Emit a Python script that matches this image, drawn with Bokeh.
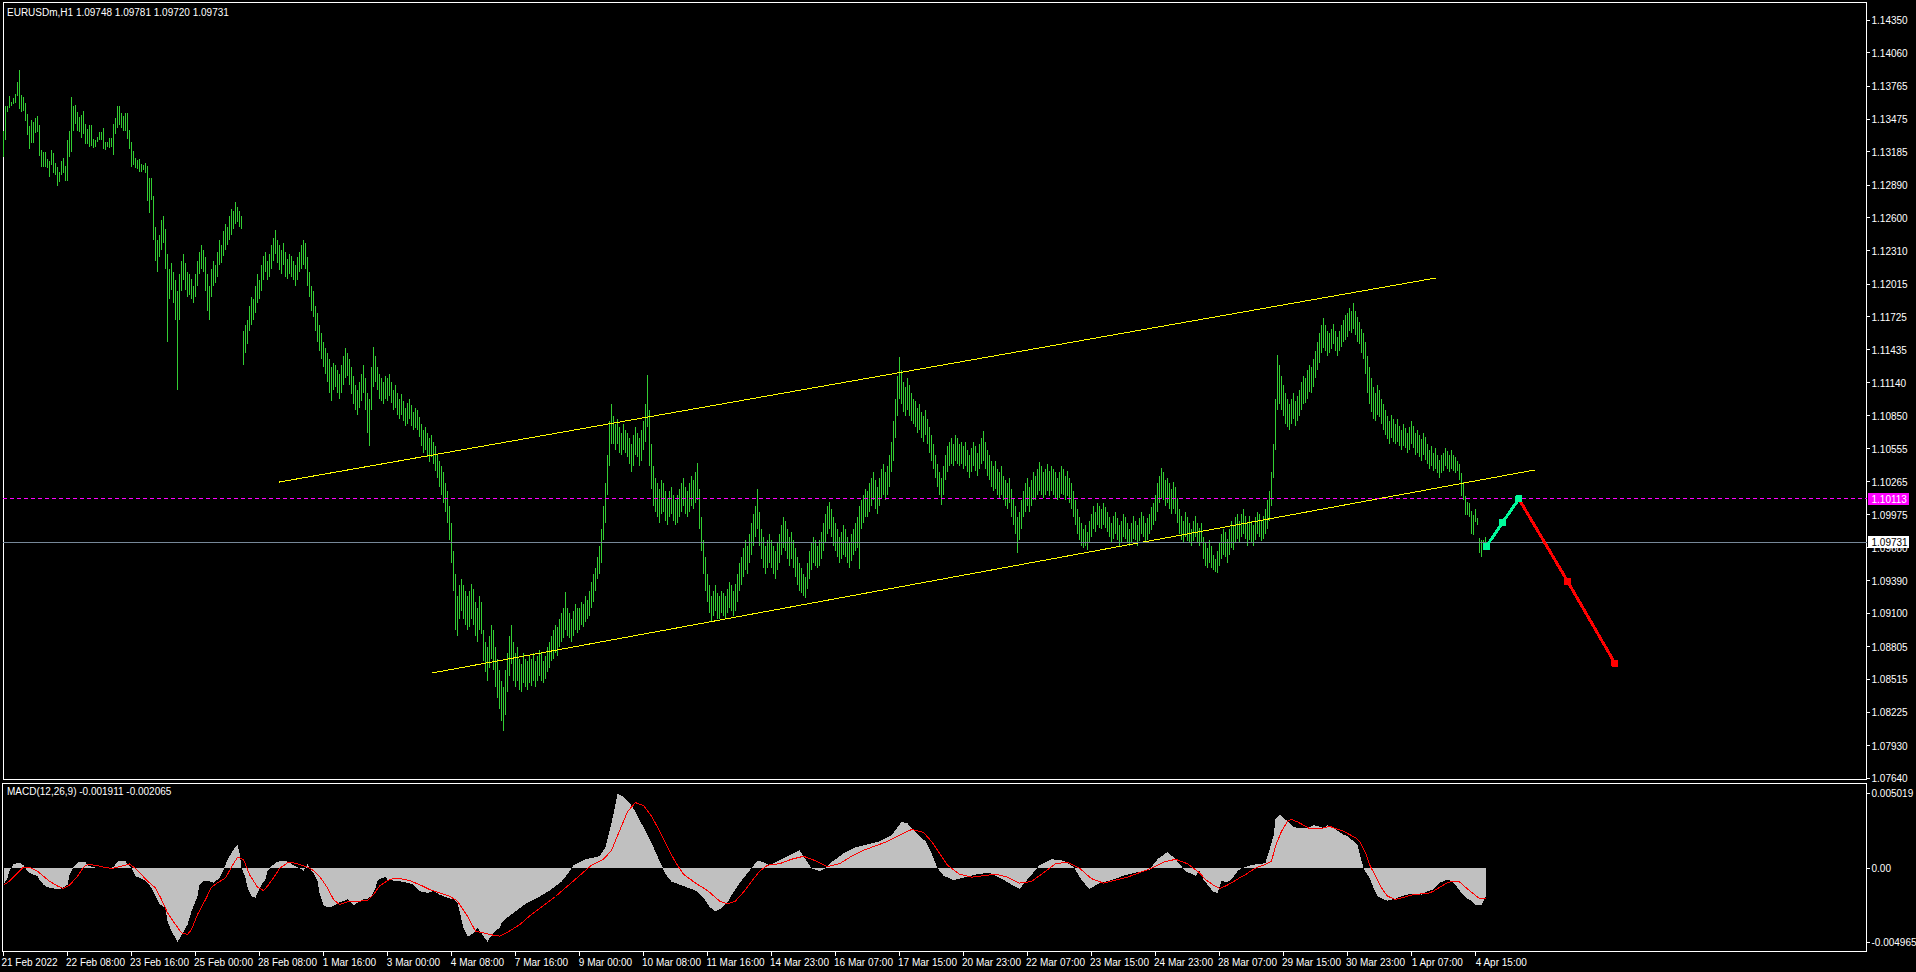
from bokeh.plotting import figure
from bokeh.layouts import column
from bokeh.models import (FixedTicker, Label, LinearAxis, Range1d, ColumnDataSource)
from bokeh.core.properties import value
from bokeh.embed import file_html
from bokeh.resources import INLINE
try:
    from bokeh.models import GlobalInlineStyleSheet
except Exception:
    GlobalInlineStyleSheet = None

FONT = "Liberation Sans"

# ---------------- DATA ----------------
symbol_title = "EURUSDm,H1  1.09748 1.09781 1.09720 1.09731"
macd_title = "MACD(12,26,9) -0.001911 -0.002065"

# H1 bar highs / lows in pips above 1.0000 (1337 -> 1.1337), one value per bar
bar_high = [
    1337,1359,1359,1368,1363,1366,1370,1380,1391,1369,1367,1362,1352,1341,1347,1345,1348,1350,1342,1320,1318,1318,1312,1310,
    1320,1317,1309,1305,1301,1310,1313,1306,1329,1337,1367,1359,1360,1354,1349,1351,1355,1343,1339,1342,1342,1330,1329,1332,
    1336,1336,1340,1327,1327,1331,1331,1343,1348,1359,1359,1353,1350,1353,1353,1338,1327,1319,1313,1311,1312,1308,1307,1309,
    1306,1295,1295,1279,1252,1240,1245,1258,1262,1250,1228,1215,1220,1212,1205,1195,1210,1222,1228,1220,1212,1210,1206,1200,
    1210,1222,1230,1236,1232,1225,1210,1200,1215,1222,1218,1230,1240,1236,1248,1255,1252,1262,1268,1266,1274,1270,1266,1262,
    1160,1165,1170,1182,1190,1188,1200,1210,1205,1218,1226,1230,1222,1228,1236,1242,1249,1240,1236,1232,1238,1230,1224,1228,
    1226,1222,1218,1225,1230,1236,1240,1238,1225,1212,1200,1195,1182,1176,1165,1158,1150,1145,1140,1135,1128,1132,1130,1125,
    1122,1130,1138,1145,1140,1135,1128,1120,1112,1108,1115,1122,1130,1118,1105,1100,1128,1146,1138,1128,1122,1118,1115,1120,
    1118,1122,1115,1108,1112,1105,1100,1104,1098,1092,1096,1100,1094,1088,1092,1090,1084,1078,1072,1075,1070,1065,1068,1062,
    1058,1050,1045,1040,1035,1025,1018,1005,990,965,945,925,935,940,935,930,925,930,936,932,920,915,925,920,
    895,885,880,890,900,895,880,870,860,850,845,860,875,890,900,885,875,880,870,865,875,870,868,872,
    870,875,868,872,878,875,868,872,880,885,890,895,900,898,905,910,915,929,915,910,905,912,918,915,
    915,920,918,925,922,930,938,945,950,960,970,985,1005,1025,1050,1080,1095,1085,1078,1082,1075,1070,1078,1072,
    1070,1065,1060,1068,1075,1070,1065,1072,1080,1095,1121,1090,1060,1040,1030,1025,1020,1028,1025,1018,1012,1018,1022,1015,
    1010,1015,1020,1025,1030,1022,1018,1025,1032,1028,1035,1043,1020,995,975,960,945,935,925,930,935,928,925,930,
    928,925,932,938,935,930,936,945,955,960,968,975,970,980,990,998,1005,1020,1000,985,978,970,975,980,
    975,970,965,972,980,988,995,992,985,978,982,975,968,960,955,950,945,942,955,965,972,978,975,970,
    975,982,990,998,1005,1009,1002,995,990,985,978,982,988,985,978,972,980,985,990,995,1005,1010,1015,1020,
    1018,1025,1030,1035,1028,1022,1030,1038,1042,1035,1040,1050,1062,1080,1100,1120,1137,1125,1115,1110,1118,1112,1105,1100,
    1098,1092,1095,1088,1085,1090,1082,1075,1068,1060,1050,1042,1035,1030,1040,1050,1058,1062,1065,1060,1068,1065,1060,1062,
    1058,1062,1055,1050,1056,1062,1058,1052,1060,1065,1071,1062,1055,1050,1045,1040,1045,1038,1035,1040,1032,1028,1025,1030,
    1020,1012,1005,995,1000,1010,1018,1025,1030,1022,1028,1035,1032,1038,1044,1040,1035,1038,1042,1036,1040,1038,1035,1030,
    1035,1040,1038,1032,1036,1030,1025,1018,1010,1002,995,990,985,988,982,992,998,1005,1000,1008,1005,1002,1008,1004,
    1000,995,990,996,1000,994,988,992,998,995,990,985,990,996,992,988,994,1000,996,990,994,998,1004,1008,
    1015,1025,1032,1039,1035,1028,1030,1025,1020,1026,1022,1012,1002,996,992,1000,995,990,985,992,996,990,986,990,
    978,972,968,975,970,962,958,965,972,980,985,982,976,985,992,988,995,998,992,998,1002,996,990,996,
    992,988,995,1000,998,992,996,1002,1010,1018,1035,1060,1100,1139,1130,1120,1112,1105,1100,1095,1100,1105,1098,1102,
    1108,1115,1120,1118,1125,1130,1128,1135,1142,1150,1158,1165,1171,1165,1160,1158,1162,1166,1160,1155,1160,1165,1170,1174,
    1176,1180,1178,1185,1178,1172,1168,1162,1158,1150,1138,1128,1118,1110,1105,1112,1108,1100,1095,1090,1085,1080,1086,1082,
    1078,1082,1076,1072,1078,1074,1070,1075,1080,1076,1070,1072,1068,1064,1070,1066,1060,1055,1058,1052,1056,1050,1046,1050,
    1052,1056,1054,1050,1055,1050,1048,1045,1042,1034,1026,1014,1009,1008,1001,997,1002,994,977,975,975,978,
]
bar_low = [
    1314,1329,1354,1357,1359,1361,1362,1368,1356,1354,1355,1346,1333,1321,1326,1326,1335,1336,1315,1305,1305,1305,1304,1296,
    1307,1300,1298,1288,1292,1298,1300,1293,1293,1314,1318,1337,1343,1337,1336,1331,1334,1325,1325,1323,1324,1322,1323,1327,
    1329,1329,1321,1320,1323,1322,1323,1316,1334,1340,1342,1340,1337,1337,1330,1321,1305,1307,1304,1303,1301,1301,1302,1300,
    1275,1264,1276,1240,1222,1212,1225,1232,1238,1215,1150,1188,1196,1185,1170,1108,1170,1195,1205,1196,1190,1192,1188,1185,
    1190,1200,1210,1215,1212,1195,1178,1170,1190,1200,1202,1208,1218,1220,1226,1232,1236,1240,1245,1250,1255,1256,1252,1250,
    1130,1140,1148,1160,1165,1170,1176,1185,1188,1195,1205,1212,1205,1208,1215,1222,1228,1220,1214,1210,1218,1208,1206,1210,
    1208,1205,1200,1205,1212,1215,1218,1215,1200,1190,1178,1172,1160,1150,1142,1135,1128,1122,1115,1105,1098,1108,1110,1105,
    1100,1105,1112,1118,1120,1112,1104,1095,1090,1086,1092,1098,1105,1090,1070,1058,1090,1110,1115,1108,1100,1098,1095,1100,
    1098,1102,1096,1090,1092,1086,1082,1086,1080,1076,1078,1082,1076,1072,1074,1072,1066,1058,1052,1055,1048,1044,1048,1042,
    1036,1030,1022,1015,1008,1000,990,975,955,930,895,890,905,912,905,900,895,898,905,900,890,885,895,892,
    868,858,850,862,870,860,845,835,825,815,806,820,840,855,865,850,845,850,842,840,848,845,842,848,
    846,850,845,850,855,850,848,852,858,862,868,870,875,872,880,885,888,895,890,888,885,890,895,893,
    895,900,898,902,905,908,915,920,930,940,945,955,975,990,1015,1040,1060,1060,1055,1060,1052,1050,1055,1052,
    1048,1042,1035,1040,1050,1048,1040,1045,1055,1062,1075,1040,1020,1005,1000,995,990,998,1000,992,988,995,998,992,
    988,990,995,1000,1005,998,995,1000,1005,1002,1008,1010,985,965,945,930,920,910,903,908,912,905,905,910,
    908,905,910,915,912,908,912,920,930,935,942,948,945,955,962,970,978,985,970,958,950,945,950,955,
    950,945,940,948,955,962,968,965,958,952,958,950,942,935,930,928,925,924,932,940,948,955,952,950,
    952,958,965,972,980,985,978,970,965,960,955,958,962,960,955,950,956,962,965,968,949,985,990,995,
    995,1000,1005,1010,1002,998,1005,1012,1015,1010,1015,1022,1035,1045,1065,1085,1100,1095,1088,1085,1090,1085,1080,1078,
    1075,1070,1072,1065,1062,1068,1060,1052,1045,1038,1030,1022,1015,1006,1015,1028,1035,1040,1042,1040,1045,1042,1040,1042,
    1038,1040,1035,1030,1035,1040,1036,1032,1038,1042,1045,1038,1032,1028,1022,1018,1020,1015,1012,1015,1010,1005,1002,1008,
    995,988,980,963,975,985,995,1000,1005,1000,1005,1010,1010,1015,1018,1015,1012,1015,1018,1014,1018,1015,1012,1010,
    1012,1016,1015,1010,1014,1008,1002,995,988,980,975,970,968,970,966,972,978,985,982,988,986,985,988,986,
    982,978,972,976,980,975,970,972,978,976,972,970,972,976,975,970,974,980,978,973,975,980,984,988,
    992,1000,1008,1012,1010,1005,1008,1002,998,1002,998,990,980,975,972,978,974,972,970,974,978,972,970,972,
    958,952,950,955,950,948,947,946,952,958,962,960,955,962,968,966,972,976,972,978,980,976,970,975,
    972,970,975,980,978,974,976,980,985,992,1005,1030,1055,1090,1095,1090,1085,1078,1075,1072,1078,1082,1076,1080,
    1085,1090,1095,1096,1100,1106,1105,1110,1118,1125,1132,1140,1145,1142,1138,1140,1144,1148,1142,1138,1142,1146,1150,1152,
    1155,1160,1158,1162,1156,1150,1148,1140,1135,1122,1105,1095,1088,1082,1080,1086,1084,1078,1072,1068,1064,1060,1065,1062,
    1060,1062,1058,1055,1058,1056,1052,1055,1060,1056,1050,1052,1048,1045,1050,1046,1042,1038,1040,1036,1038,1034,1030,1034,
    1036,1040,1038,1035,1038,1036,1034,1036,1028,1014,1010,997,997,995,980,979,991,988,963,960,968,972,
]

# price axis ticks
price_ticks = [1.14350, 1.14060, 1.13765, 1.13475, 1.13185, 1.12890, 1.12600, 1.12310,
               1.12015, 1.11725, 1.11435, 1.11140, 1.10850, 1.10555, 1.10265, 1.09975,
               1.09680, 1.09390, 1.09100, 1.08805, 1.08515, 1.08225, 1.07930, 1.07640]
target_level = 1.10113
bid_level = 1.09731

# channel lines (bar index, price)
chan_x0 = [137.5, 214.5]
chan_y0 = [1.10261, 1.08573]
chan_x1 = [716.1, 765.6]
chan_y1 = [1.12068, 1.10369]

# projected path
proj_up_x = [741.5, 749.5, 757.7]
proj_up_y = [1.09694, 1.09904, 1.10113]
proj_dn_x = [757.7, 782.0, 805.7]
proj_dn_y = [1.10113, 1.09385, 1.08659]

# time axis (label every 32 bars)
time_labels = ["21 Feb 2022", "22 Feb 08:00", "23 Feb 16:00", "25 Feb 00:00", "28 Feb 08:00",
               "1 Mar 16:00", "3 Mar 00:00", "4 Mar 08:00", "7 Mar 16:00", "9 Mar 00:00",
               "10 Mar 08:00", "11 Mar 16:00", "14 Mar 23:00", "16 Mar 07:00", "17 Mar 15:00",
               "20 Mar 23:00", "22 Mar 07:00", "23 Mar 15:00", "24 Mar 23:00", "28 Mar 07:00",
               "29 Mar 15:00", "30 Mar 23:00", "1 Apr 07:00", "4 Apr 15:00"]

# MACD main (histogram) and signal, in units of 1e-4, at bar positions
macd_bar = [0,2,3,5,7,8,10,12,14,17,18,20,22,24,27,29,32,33,35,37,38,41,42,45,48,52,55,57,58,61,62,64,66,68,71,73,
            76,78,81,82,84,86,87,89,92,94,97,98,100,102,105,108,110,112,113,115,117,118,119,121,122,124,126,127,129,
            131,132,134,136,138,141,143,146,148,150,152,153,155,157,158,160,162,165,167,170,172,175,177,180,182,184,
            186,187,189,191,192,195,198,202,205,208,212,215,218,222,225,227,230,232,233,235,237,240,242,243,246,248,
            249,252,255,258,261,267,273,279,282,285,291,298,301,304,307,310,313,316,319,322,325,328,331,334,340,346,
            350,353,356,359,362,365,368,371,374,377,380,383,386,392,398,401,404,408,411,414,420,426,432,438,444,449,
            452,456,461,464,467,470,475,481,487,493,499,504,508,513,518,524,530,535,539,543,548,554,560,566,573,577,
            582,586,591,596,
            598,600,603,605,607,609,612,614,617,619,622,624,626,629,631,633,635,636,638,640,643,645,648,650,652,655,
            657,660,662,665,667,670,672,674,677,678,680,681,683,685,687,690,692,696,699,702,705,709,712,715,718,722,
            724,726,729,731,734,736,739,741]
macd_main = [-11,-6.5,-2,2.5,3.6,3.6,2,-2,-3.8,-5.4,-7.6,-11,-12.8,-13.2,-14.3,-13.6,-11,-4.3,0.7,3.6,4.3,4.3,2,0.7,
             -0.2,-0.2,0.7,4.3,4.7,4.7,2.9,0,-5.4,-6.5,-8.3,-11,
             -18.8,-24,-26.6,-35.6,-42.3,-46.8,-49.5,-45,-37.8,-28.9,-18.8,-11,-8.7,-8.3,-9.8,-6.5,-0.9,5.8,8,12.5,
             15.4,10.3,0.2,-6.5,-12.8,-18.8,-19.9,-16.6,-11,
             -7.6,-2,1.3,3.6,4.7,5.1,3.6,1.3,0,-1.6,2.5,0,-3.1,-8.7,-16.6,-24.8,-26.2,-25.5,-23.3,-22.1,-21,-24.8,
             -23.3,-21,-20.4,-18.8,
             -13.2,-8.3,-6.5,-6,-7.6,-8.3,-8.7,-9.8,-11,-15.4,-16.6,-15.4,-17.7,-19.9,-21,-23.3,-40,-45.6,-45.6,-43.4,
             -40,-45.6,-49.5,-46.8,-42.3,-40,
             -37,-33,-30,-27,-24,-20,-15,-9,-4,2,6,8,14,30,50,48,44,38,30,22,14,5,-4,-9,-12,-15,
             -20,-26,-29,-27,-23,-16,-10,-5,0,5,4,2,4,8,12,6,0,-2,0,4,10,14,16,18,22,31,
             30,24,18,10,0,-5,-8,-6,-4,-3,-7,-11,-14,-6,2,6,5,1,-8,-14,-10,-8,-5,-3,-1,6,
             11,6,-2,-5,
             -2,-7.6,-12.8,-15.9,-16.6,-8.7,-9.2,-7.6,-2,0,1.3,2,2.5,2.9,3.6,12.5,21.5,32.7,36,33.8,30.4,27.5,27,27,27,
             28.9,28.2,27,28.9,27,25.3,22.6,21.5,19.2,15.9,10.3,0,-2.5,-6.5,-13.2,-18.8,-21,-21.7,-20.4,-18.8,-17.7,
             -17.2,-17.7,-15.4,-14.3,-9.8,-7.6,-8.7,-11.4,-16.6,-19.5,-22.1,-24.8,-24.4,-19.1]
signal_bar = [0,3,7,10,13,17,20,23,27,30,33,37,40,42,46,50,54,57,61,63,66,69,72,76,79,82,86,89,92,94,97,101,104,107,
              111,114,117,120,123,127,130,132,135,138,142,145,148,152,155,158,162,165,168,172,175,178,182,185,188,192,
              195,198,203,208,213,218,223,227,232,236,240,245,248,
              252,258,264,270,276,282,288,294,300,304,308,312,316,320,324,328,332,336,340,346,352,358,362,366,370,374,
              378,382,388,394,400,406,412,418,424,430,436,442,448,454,460,464,468,472,478,484,490,496,502,508,514,520,
              526,532,538,544,550,556,562,568,574,580,586,592,596,
              598,601,605,608,611,614,618,621,624,627,631,634,636,639,642,644,647,650,653,657,660,663,666,670,673,676,
              678,681,683,686,689,692,696,699,702,705,709,712,715,718,722,725,728,731,735,738,741]
macd_signal = [-11.4,-8.7,-3.1,0.7,0.7,-2,-5.4,-8.7,-12,-13.6,-11.4,-5.4,0.7,2.5,2,0.7,-0.2,0.7,2,2.9,-0.2,-4.3,-8.7,
               -13.2,-21,-30,-37.8,-43.4,-44.5,-41.2,-31.1,-21,-12.8,-9.8,-6.5,0.7,7.4,5.8,-4.3,-12.8,-15,-12,-6.5,-0.2,
               3.6,3.6,2.5,0.7,-1.6,-5.4,-13.2,-21,-24.4,-22.6,-22.1,-22.1,-21.7,-17.7,-12,-8.3,-6.9,-6.9,-8.3,-11,-14.3,
               -16.6,-18.8,-22.1,-32.2,-42.3,-43.4,-45,-45.6,
               -43,-38,-31,-25,-19,-12,-5,2,6,12,25,38,44,42,35,25,14,4,-4,-10,-15,-22,-24,-22,-16,-9,
               -2,2,3,6,8,5,1,3,8,12,15,18,22,26,24,18,10,2,-4,-6,-5,-4,-6,-10,-9,-3,
               3,4,0,-7,-10,-8,-6,-3,0,4,6,3,-1,
               -3.1,-7.6,-11.4,-13.6,-12,-9.8,-6.5,-4.3,-1.6,0.7,2.5,4.7,14.8,24.8,31.5,32.7,31.1,28.9,26.6,26.6,27,28.2,
               26.6,24.8,22.6,20.4,18.1,10.3,2.5,-5.4,-13.2,-18.8,-21,-19.9,-18.8,-17.7,-17.2,-17.2,-15.4,-12.8,-9.8,
               -8.7,-9.2,-12.8,-17.2,-20.4,-20.65]
macd_ticks = [0.005019, 0.0, -0.004965]
macd_tick_labels = ["0.005019", "0.00", "-0.004965"]

# ---------------- LAYOUT / STYLE ----------------
BG = "black"
BAR_GREEN = "#32cd32"
PX_PER_BAR = 2.0
X0 = -0.5                      # bar coordinate at the left edge of the frames
MAIN_W = 1914                  # main frame spans the price-axis area too
MACD_W = 1864
AX = X0 + MACD_W / PX_PER_BAR  # bar coordinate of the price-axis line
TOP_B = 1.14506                # price at the top border line
BOT_B = 1.07630                # price at the bottom border line

n = min(len(bar_high), len(bar_low))
src = ColumnDataSource(dict(x=list(range(n)),
                            hi=[1 + v / 10000 for v in bar_high[:n]],
                            lo=[1 + v / 10000 for v in bar_low[:n]]))

p = figure(frame_width=MAIN_W, frame_height=783,
           x_range=Range1d(X0, X0 + MAIN_W / PX_PER_BAR),
           y_range=Range1d(1.075944, 1.14524),
           x_axis_location=None, y_axis_location=None,
           output_backend="svg", toolbar_location=None,
           background_fill_color=BG, border_fill_color=BG, outline_line_color=None,
           min_border_left=2, min_border_top=0, min_border_bottom=0, min_border_right=0)
p.grid.visible = False

# frame borders and price-axis line
p.segment(x0=[X0 + 0.25, X0 + 0.25, X0 + 0.25, AX],
          y0=[TOP_B, BOT_B, BOT_B, BOT_B],
          x1=[AX, AX, X0 + 0.25, AX],
          y1=[TOP_B, BOT_B, TOP_B, TOP_B], line_color="white", line_width=1)

# bars
p.segment(x0="x", y0="lo", x1="x", y1="hi", source=src, line_color=BAR_GREEN, line_width=1)
# channel
p.segment(x0=chan_x0, y0=chan_y0, x1=chan_x1, y1=chan_y1, line_color="#ffff00", line_width=1)
# level lines
p.segment(x0=[X0], y0=[target_level], x1=[AX], y1=[target_level], line_color="#ff00ff",
          line_dash="4 3", line_width=1)
p.segment(x0=[X0], y0=[bid_level], x1=[AX], y1=[bid_level], line_color="#778899", line_width=1)

# projection
p.line(proj_dn_x, proj_dn_y, line_color="#ff0000", line_width=3)
p.scatter(proj_dn_x[1:], proj_dn_y[1:], marker="square", size=6, fill_color="#ff0000", line_color="#ff0000")
p.line(proj_up_x, proj_up_y, line_color="#00fa9a", line_width=3)
p.scatter(proj_up_x, proj_up_y, marker="square", size=6, fill_color="#00fa9a", line_color="#00fa9a")

# price axis ticks + labels (drawn inside the wide frame)
nt = len(price_ticks)
p.segment(x0=[AX] * nt, y0=price_ticks, x1=[AX + 1.5] * nt, y1=price_ticks, line_color="white")
p.text(x=[AX + 2.5] * nt, y=price_ticks, text=[f"{t:.5f}" for t in price_ticks],
       text_color="white", text_font=value(FONT), text_font_size=value("10px"),
       text_baseline="middle", text_align="left")
# current-level boxes
half_h = 0.00053
p.quad(left=[AX + 0.5, AX + 0.5], right=[AX + 21, AX + 21],
       bottom=[target_level - half_h, bid_level - half_h],
       top=[target_level + half_h, bid_level + half_h],
       fill_color=["#ff00ff", "white"], line_color=None)
p.text(x=[AX + 2.5, AX + 2.5], y=[target_level, bid_level],
       text=[f"{target_level:.5f}", f"{bid_level:.5f}"], text_color=["white", "black"],
       text_font=value(FONT), text_font_size=value("10px"),
       text_baseline="middle", text_align="left")

p.add_layout(Label(x=X0 + 2.25, y=1.14418, text=symbol_title, text_color="white",
                   text_font=FONT, text_font_size="10px", text_baseline="middle"))

# ---------------- MACD panel ----------------
m = figure(frame_width=MACD_W, frame_height=168,
           x_range=Range1d(X0, X0 + MACD_W / PX_PER_BAR),
           y_range=Range1d(-0.005591, 0.005685), y_axis_location="right",
           x_axis_location=None, output_backend="svg", toolbar_location=None,
           background_fill_color=BG, border_fill_color=BG,
           outline_line_color="white", outline_line_width=1,
           min_border_left=2, min_border_top=0, min_border_bottom=0, min_border_right=0)
m.grid.visible = False


def style_axis(ax, tick_out=3):
    ax.axis_line_color = "white"
    ax.major_tick_line_color = "white"
    ax.minor_tick_line_color = None
    ax.major_tick_in = 0
    ax.major_tick_out = tick_out
    ax.major_label_text_color = "white"
    ax.major_label_text_font = FONT
    ax.major_label_text_font_size = "10px"
    ax.major_label_standoff = 2


style_axis(m.yaxis[0])
m.yaxis[0].ticker = FixedTicker(ticks=macd_ticks)
m.yaxis[0].major_label_overrides = dict(zip(macd_ticks, macd_tick_labels))

m.varea(x=macd_bar, y1=0, y2=[v * 1e-4 for v in macd_main], fill_color="#c0c0c0")
m.line(signal_bar, [v * 1e-4 for v in macd_signal], line_color="#ff0000", line_width=1)
m.add_layout(Label(x=X0 + 2.25, y=0.00515, text=macd_title, text_color="white",
                   text_font=FONT, text_font_size="10px", text_baseline="middle"))

time_ticks = list(range(0, 32 * len(time_labels), 32))
tick_axis = LinearAxis(ticker=FixedTicker(ticks=time_ticks),
                       major_label_overrides={t: "" for t in time_ticks})
style_axis(tick_axis, tick_out=4)
tick_axis.major_label_text_font_size = "0px"
tick_axis.major_label_standoff = 0
label_pos = [t + round((5.0 * len(s) / 2 - 1) / 2) for t, s in zip(time_ticks, time_labels)]
label_axis = LinearAxis(ticker=FixedTicker(ticks=label_pos),
                        major_label_overrides=dict(zip(label_pos, time_labels)))
style_axis(label_axis, tick_out=0)
label_axis.axis_line_color = None
label_axis.major_tick_line_color = None
label_axis.major_label_standoff = 1
m.add_layout(tick_axis, "below")
m.add_layout(label_axis, "below")

kw = {}
if GlobalInlineStyleSheet is not None:
    kw["stylesheets"] = [GlobalInlineStyleSheet(
        css=("html, body { margin: 0 !important; padding: 0; background: #000; overflow: hidden; "
             "shape-rendering: crispEdges; }"))]
layout = column(p, m, spacing=0, **kw)

open("out.html", "w").write(file_html(layout, INLINE))
